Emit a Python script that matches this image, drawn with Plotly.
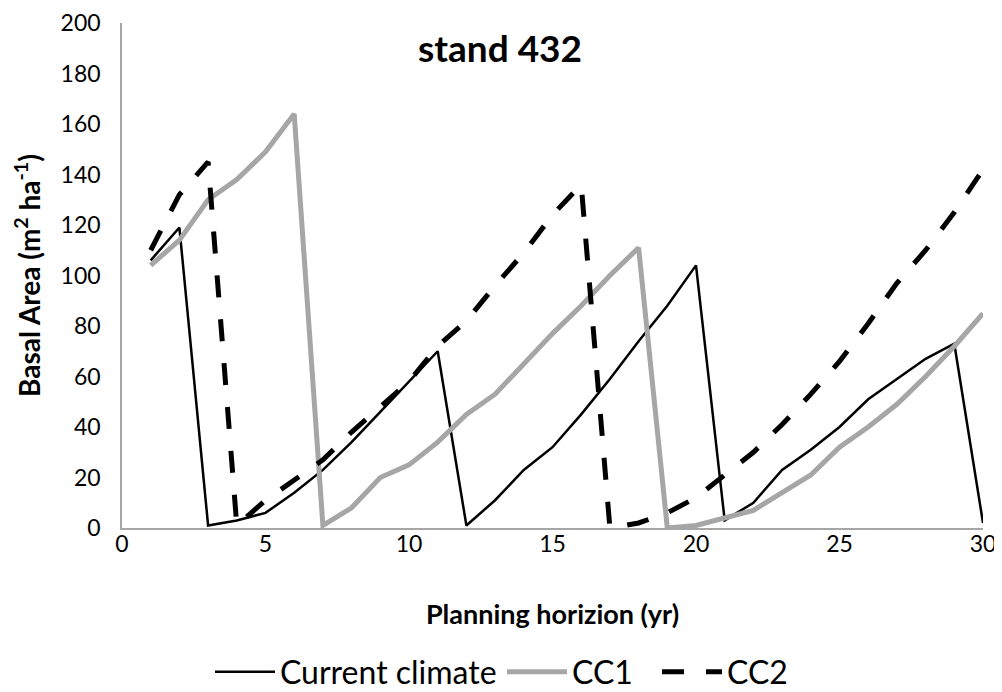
import plotly.graph_objects as go

years = list(range(1, 31))
current_climate = [106, 119, 1, 3, 6, 14, 23, 34, 46, 58, 70, 1, 11, 23, 32, 45, 59, 74, 88, 104,
                   3, 10, 23, 31, 40, 51, 59, 67, 73, 2]
cc1 = [104, 114, 130, 138, 149, 164, 1, 8, 20, 25, 34, 45, 53, 65, 77, 88, 100, 111, 0, 1,
       4, 7, 14, 21, 32, 40, 49, 60, 72, 85]
cc2 = [110, 132, 145, 1, 11, 19, 27, 38, 48, 58, 72, 82, 96, 109, 124, 136, 0, 2, 6, 12,
       21, 30, 41, 53, 66, 81, 97, 110, 125, 142]
x_ticks = [0, 5, 10, 15, 20, 25, 30]
y_ticks = [0, 20, 40, 60, 80, 100, 120, 140, 160, 180, 200]

FONT = "Lato, 'Open Sans', sans-serif"
W, H = 994, 684  # page adds an 8px body margin

fig = go.Figure()
fig.add_trace(go.Scatter(x=years, y=current_climate, mode="lines", name="Current climate",
                         line=dict(color="black", width=2.5), legend="legend"))
fig.add_trace(go.Scatter(x=years, y=cc1, mode="lines", name="CC1",
                         line=dict(color="#A6A6A6", width=5), legend="legend2"))
fig.add_trace(go.Scatter(x=years, y=cc2, mode="lines", name="CC2",
                         line=dict(color="black", width=5, dash="22px,22px"), legend="legend3"))

leg_common = dict(orientation="h", xref="container", xanchor="left",
                  yref="container", y=1 - 664 / H, yanchor="middle",
                  font=dict(size=32), itemwidth=60, bgcolor="rgba(0,0,0,0)")

fig.update_layout(
    width=W, height=H,
    paper_bgcolor="white", plot_bgcolor="white",
    margin=dict(l=114, r=19, t=15, b=164),
    font=dict(family=FONT, color="black", size=22),
    title=dict(text="<b>stand 432</b>", x=492 / W, xref="container", xanchor="center",
               y=1 - 41 / H, yref="container", yanchor="middle",
               font=dict(size=37, family=FONT, color="black")),
    xaxis=dict(range=[0, 30], tickvals=x_ticks, showgrid=False, zeroline=False,
               showline=True, linecolor="#A6A6A6", linewidth=1.5, ticks="",
               tickfont=dict(size=23), ticklabelstandoff=-5, automargin=False,
               title=dict(text="<b>Planning horizion (yr)</b>", font=dict(size=27), standoff=49)),
    yaxis=dict(range=[0, 200], tickvals=y_ticks, showgrid=False, zeroline=False,
               showline=True, linecolor="#A6A6A6", linewidth=1.5, ticks="",
               tickfont=dict(size=23), ticklabelstandoff=15, automargin=False,
               title=dict(text="<b>Basal Area (m<sup>2</sup> ha<sup>-1</sup>)</b>",
                          font=dict(size=28), standoff=12)),
    legend=dict(x=202 / W, **leg_common),
    legend2=dict(x=494 / W, **leg_common),
    legend3=dict(x=649 / W, **leg_common),
    showlegend=True,
)

fig.write_html("out.html")
